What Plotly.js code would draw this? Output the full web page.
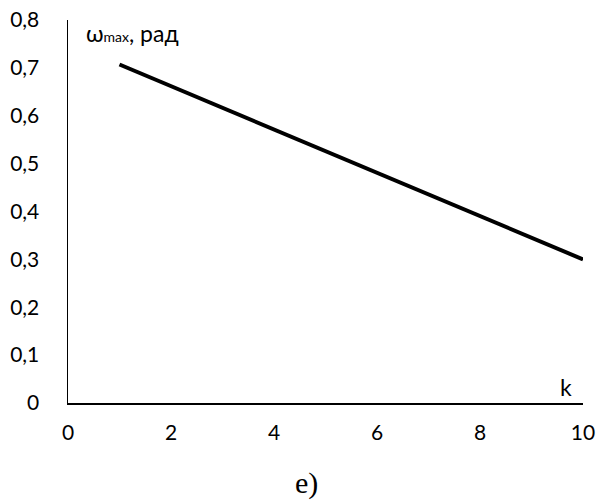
<!DOCTYPE html>
<html>
<head>
<meta charset="utf-8">
<script src="https://cdn.plot.ly/plotly-3.0.1.min.js"></script>
<style>html,body{margin:0;padding:0;background:#fff;}#chart{width:613px;height:501px;}</style>
</head>
<body>
<div id="chart"></div>
<script>
// Data
const kValues = [1, 10];
const omegaMax = [0.707, 0.30];
const xTicks = [0, 2, 4, 6, 8, 10];
const yTicks = [0, 0.1, 0.2, 0.3, 0.4, 0.5, 0.6, 0.7, 0.8];
const yTickLabels = ["0", "0,1", "0,2", "0,3", "0,4", "0,5", "0,6", "0,7", "0,8"];
const yAxisLabel = "ω<span style=\"font-size:14px\">max</span>, рад";
const xAxisLabel = "k";
const captionText = "е)";

const trace = {
  x: kValues,
  y: omegaMax,
  type: "scatter",
  mode: "lines",
  line: {color: "#000000", width: 4},
  hoverinfo: "none"
};

const layout = {
  width: 613,
  height: 501,
  margin: {l: 68, r: 30, t: 20, b: 98},
  paper_bgcolor: "#ffffff",
  plot_bgcolor: "#ffffff",
  showlegend: false,
  separators: ", ",
  font: {family: "Lato, Open Sans, sans-serif", size: 21, color: "#000000"},
  xaxis: {
    range: [0, 10],
    tickvals: xTicks,
    ticktext: xTicks.map(String),
    showgrid: false,
    zeroline: false,
    showline: true,
    linecolor: "#000000",
    linewidth: 1.5,
    ticks: "",
    ticklabelstandoff: 10,
    tickfont: {size: 21, color: "#000000"},
    fixedrange: true
  },
  yaxis: {
    range: [0, 0.8],
    tickvals: yTicks,
    ticktext: yTickLabels,
    showgrid: false,
    zeroline: false,
    showline: true,
    linecolor: "#000000",
    linewidth: 1.5,
    ticks: "",
    ticklabelstandoff: 23,
    tickfont: {size: 21, color: "#000000"},
    fixedrange: true
  },
  annotations: [
    {
      text: yAxisLabel,
      xref: "paper", yref: "paper",
      x: (84 - 68) / 515, y: (403 - 33) / 383,
      xanchor: "left", yanchor: "middle",
      showarrow: false,
      font: {size: 23, color: "#000000"}
    },
    {
      text: xAxisLabel,
      xref: "paper", yref: "paper",
      x: (566 - 68) / 515, y: (403 - 387) / 383,
      xanchor: "center", yanchor: "middle",
      showarrow: false,
      font: {size: 23, color: "#000000"}
    },
    {
      text: captionText,
      xref: "paper", yref: "paper",
      x: (306 - 68) / 515, y: (403 - 483) / 383,
      xanchor: "center", yanchor: "middle",
      showarrow: false,
      font: {family: "Liberation Serif, Times New Roman, serif", size: 30, color: "#000000"}
    }
  ]
};

Plotly.newPlot("chart", [trace], layout, {displayModeBar: false, staticPlot: true});
</script>
</body>
</html>
